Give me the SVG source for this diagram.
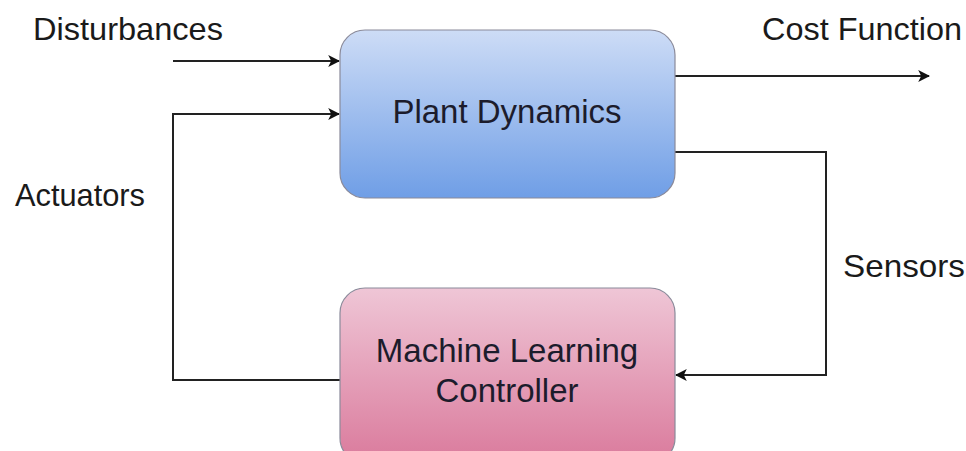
<svg xmlns="http://www.w3.org/2000/svg" width="966" height="451" viewBox="0 0 966 451">
  <style>
    .lbl { font-family: "Liberation Sans", Arial, sans-serif; font-size: 32px; fill: #1a1a1a; }
    .node-txt { font-family: "Liberation Sans", Arial, sans-serif; font-size: 33px; fill: #1c1c2c; text-anchor: middle; }
    .wire { fill: none; stroke: #222; stroke-width: 2; }
    .box { stroke: #8a8a9a; stroke-width: 1.2; }
  </style>
  <defs>
    <linearGradient id="plantFill" x1="0" y1="0" x2="0" y2="1">
      <stop offset="0" stop-color="#cddcf6"/>
      <stop offset="1" stop-color="#6f9ee6"/>
    </linearGradient>
    <linearGradient id="mlFill" x1="0" y1="0" x2="0" y2="1">
      <stop offset="0" stop-color="#efc6d6"/>
      <stop offset="1" stop-color="#da7a9c"/>
    </linearGradient>
    <marker id="arrow" viewBox="0 0 10 10" refX="9" refY="5" markerWidth="6" markerHeight="6" markerUnits="strokeWidth" orient="auto">
      <path d="M0,0 L10,5 L0,10 L2.5,5 Z" fill="#111"/>
    </marker>
  </defs>
  <rect width="966" height="451" fill="#ffffff"/>

  <g id="connectors">
    <path class="wire" d="M173,61 H339" marker-end="url(#arrow)"/>
    <path class="wire" d="M340,380 H173 V114 H339" marker-end="url(#arrow)"/>
    <path class="wire" d="M675,76 H929" marker-end="url(#arrow)"/>
    <path class="wire" d="M675,152 H826 V375 H676" marker-end="url(#arrow)"/>
  </g>

  <g id="plant-dynamics">
    <rect class="box" x="340" y="30" width="335" height="168" rx="25" fill="url(#plantFill)"/>
    <text class="node-txt" x="507" y="123">Plant Dynamics</text>
  </g>

  <g id="ml-controller">
    <rect class="box" x="340" y="288" width="335" height="175" rx="25" fill="url(#mlFill)"/>
    <text class="node-txt" x="507" y="362">Machine Learning</text>
    <text class="node-txt" x="507" y="402">Controller</text>
  </g>

  <g id="labels">
    <text class="lbl" x="33" y="40" textLength="190" lengthAdjust="spacingAndGlyphs">Disturbances</text>
    <text class="lbl" x="762" y="40" textLength="200" lengthAdjust="spacingAndGlyphs">Cost Function</text>
    <text class="lbl" x="15" y="206" textLength="130" lengthAdjust="spacingAndGlyphs">Actuators</text>
    <text class="lbl" x="843" y="277" textLength="122" lengthAdjust="spacingAndGlyphs">Sensors</text>
  </g>
</svg>
